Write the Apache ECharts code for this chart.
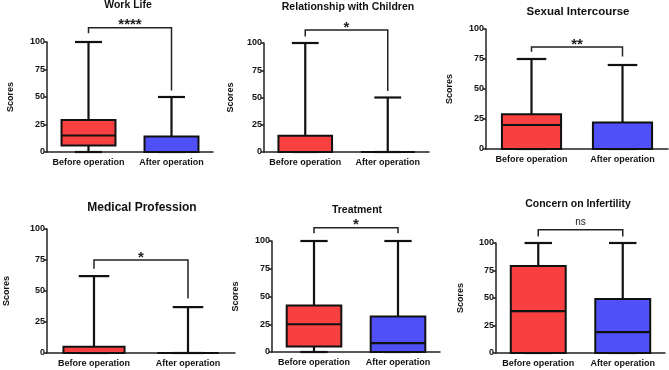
<!DOCTYPE html>
<html lang="en">
<head>
    <meta charset="UTF-8">
    <title>Scores before and after operation</title>
    <script src="https://cdn.jsdelivr.net/npm/echarts@6.0.0/dist/echarts.min.js"></script>
    <style>
        body, html {
            margin: 0;
            padding: 0;
            width: 100%;
            height: 100%;
            overflow: hidden;
            background-color: #fff;
        }
        #chart {
            width: 669px;
            height: 370px;
        }
    </style>
</head>
<body>
    <div id="chart"></div>
    <script>
        // data
        var categories = ['Before operation', 'After operation'];
        var panelTitles = ['Work Life', 'Relationship with Children', 'Sexual Intercourse',
                           'Medical Profession', 'Treatment', 'Concern on Infertility'];
        var yTicks = [0, 25, 50, 75, 100];
        // [min, Q1, median, Q3, max]
        var beforeStats = [
            [0, 6, 15, 29, 100],
            [0, 0, 0, 15, 100],
            [0, 0, 20, 29, 75],
            [0, 0, 0, 5, 62],
            [0, 5, 25, 42, 100],
            [0, 0, 38, 79, 100]
        ];
        var afterStats = [
            [0, 0, 0, 14, 50],
            [0, 0, 0, 0, 50],
            [0, 0, 0, 22, 70],
            [0, 0, 0, 0, 37],
            [0, 0, 8, 32, 100],
            [0, 0, 19, 49, 100]
        ];
        // [bracket level, left leg end, right leg end] in score units
        var brackets = [
            [113, 108, 56],
            [112, 106, 56],
            [85, 81, 77],
            [75, 68, 44],
            [112, 107, 107],
            [112, 106, 106]
        ];
        var sigLabels = ['****', '*', '**', '*', '*', 'ns'];
        var boxColors = ['#F94040', '#5050F8'];

        var font = '"Liberation Sans", Arial, sans-serif';

        // panel layout (pixels)
        var grids = [
            { left: 47, top: 42, width: 166, height: 110 },
            { left: 264, top: 43, width: 165, height: 109 },
            { left: 486, top: 29, width: 182, height: 120 },
            { left: 47, top: 229, width: 188, height: 124 },
            { left: 272, top: 241, width: 168, height: 111 },
            { left: 496, top: 243, width: 169, height: 110 }
        ];
        var titlePos = [[128, 0], [348, 2], [578, 6], [142, 202], [357, 205], [578, 199]];
        var titleSize = [10.5, 10.5, 11.5, 12, 10.5, 10.5];
        var nameGaps = [32, 29, 32, 36, 32, 31];

        function renderBox(params, api) {
            var i = api.value(0);
            var mn = api.value(1), q1 = api.value(2), md = api.value(3), q3 = api.value(4), mx = api.value(5);
            var color = boxColors[api.value(6)];
            var band = api.size([1, 0])[0];
            var bw = band * 0.65, cw = bw * 0.5;
            var x = api.coord([i, 0])[0];
            var y = function (v) { return api.coord([i, v])[1]; };
            var line = { stroke: '#111', lineWidth: 2.2 };
            return {
                type: 'group',
                children: [
                    { type: 'line', shape: { x1: x, y1: y(q3), x2: x, y2: y(mx) }, style: line },
                    { type: 'line', shape: { x1: x, y1: y(mn), x2: x, y2: y(q1) }, style: line },
                    { type: 'line', shape: { x1: x - cw / 2, y1: y(mx), x2: x + cw / 2, y2: y(mx) }, style: line },
                    { type: 'line', shape: { x1: x - cw / 2, y1: y(mn), x2: x + cw / 2, y2: y(mn) }, style: line },
                    { type: 'rect', shape: { x: x - bw / 2, y: y(q3), width: bw, height: y(q1) - y(q3) },
                      style: { fill: color, stroke: '#111', lineWidth: 2 } },
                    { type: 'line', shape: { x1: x - bw / 2, y1: y(md), x2: x + bw / 2, y2: y(md) }, style: line }
                ]
            };
        }

        function makeBracketRenderer(p) {
            return function (params, api) {
                var top = api.value(0), l = api.value(1), r = api.value(2);
                var a = api.coord([0, l]), b = api.coord([0, top]), c = api.coord([1, top]), d = api.coord([1, r]);
                var isNs = sigLabels[p] === 'ns';
                return {
                    type: 'group',
                    children: [
                        { type: 'polyline', shape: { points: [a, b, c, d] },
                          style: { stroke: '#222', lineWidth: 1.5, fill: null } },
                        { type: 'text', x: (b[0] + c[0]) / 2, y: isNs ? b[1] - 3 : b[1] + 5,
                          style: { text: sigLabels[p], align: 'center', verticalAlign: 'bottom',
                                   fill: '#222', font: (isNs ? 'normal 10px ' : 'bold 15px ') + font } }
                    ]
                };
            };
        }

        var option = {
            backgroundColor: '#fff',
            animation: false,
            title: [],
            grid: [],
            xAxis: [],
            yAxis: [],
            series: []
        };

        for (var p = 0; p < 6; p++) {
            option.title.push({
                text: panelTitles[p],
                left: titlePos[p][0],
                top: titlePos[p][1],
                textAlign: 'center',
                padding: 0,
                textStyle: { fontFamily: font, fontWeight: 'bold', fontSize: titleSize[p], color: '#111' }
            });
            option.grid.push(grids[p]);
            option.xAxis.push({
                type: 'category',
                gridIndex: p,
                data: categories,
                axisLine: { lineStyle: { color: '#222', width: 1.5 } },
                axisTick: { show: false },
                axisLabel: { interval: 0, hideOverlap: false, margin: 6, color: '#111',
                             fontFamily: font, fontWeight: 'bold', fontSize: 9 }
            });
            option.yAxis.push({
                type: 'value',
                gridIndex: p,
                min: yTicks[0],
                max: yTicks[yTicks.length - 1],
                interval: yTicks[1] - yTicks[0],
                name: 'Scores',
                nameLocation: 'middle',
                nameGap: nameGaps[p],
                nameTextStyle: { fontFamily: font, fontWeight: 'bold', fontSize: 9, color: '#111' },
                splitLine: { show: false },
                axisLine: { show: true, lineStyle: { color: '#222', width: 1.5 } },
                axisTick: { show: true, length: 3, lineStyle: { color: '#222', width: 1.5 } },
                axisLabel: { margin: 2, color: '#111', fontFamily: font, fontWeight: 'bold', fontSize: 9 }
            });
            option.series.push({
                type: 'custom',
                xAxisIndex: p,
                yAxisIndex: p,
                renderItem: renderBox,
                data: [
                    [0].concat(beforeStats[p], [0]),
                    [1].concat(afterStats[p], [1])
                ],
                encode: { x: 0, y: [1, 5] },
                z: 3
            });
            option.series.push({
                type: 'custom',
                xAxisIndex: p,
                yAxisIndex: p,
                renderItem: makeBracketRenderer(p),
                data: [brackets[p]],
                encode: { y: 0 },
                clip: false,
                z: 4
            });
        }

        var chart = echarts.init(document.getElementById('chart'));
        chart.setOption(option);
    </script>
</body>
</html>
